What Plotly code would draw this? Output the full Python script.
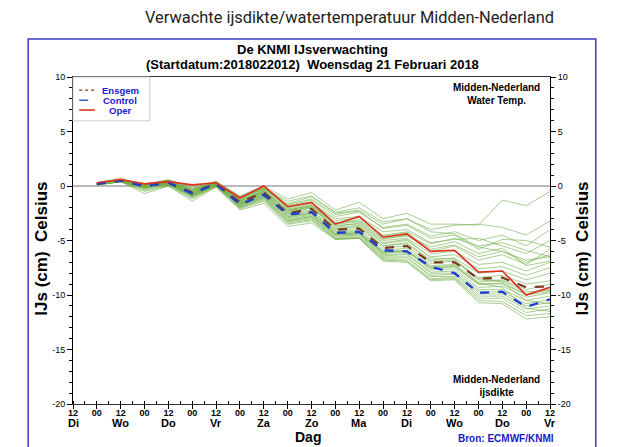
import plotly.graph_objects as go

# ---------------- data ----------------
hours = [12, 24, 36, 48, 60, 72, 84, 96, 108, 120, 132, 144, 156, 168, 180, 192, 204, 216, 228, 240]

ensgem = [0.2, 0.5, 0.0, 0.3, -0.6, 0.2, -1.5, -0.6, -2.5, -2.1, -4.0, -3.9, -5.7, -5.5, -7.0, -7.0, -8.5, -8.4, -9.3, -9.2]
control = [0.2, 0.5, 0.0, 0.3, -0.7, 0.2, -1.7, -0.8, -2.6, -2.4, -4.3, -4.2, -5.9, -6.0, -7.4, -8.0, -9.8, -9.7, -11.1, -10.4]
oper = [0.3, 0.6, 0.2, 0.4, 0.1, 0.3, -1.1, 0.0, -1.9, -1.5, -3.5, -2.8, -4.7, -4.4, -6.0, -5.9, -7.9, -7.8, -10.0, -9.3]

members = [
    [0.3, 0.6, 0.2, 0.5, 0.0, 0.4, -0.9, 0.0, -1.2, -0.6, -2.2, -1.5, -3.0, -2.5, -3.5, -3.5, -3.6, -1.3, -1.8, -0.5],
    [0.3, 0.7, 0.1, 0.6, -0.2, 0.3, -1.0, -0.1, -1.6, -1.0, -2.4, -2.0, -3.3, -3.0, -4.0, -3.6, -3.5, -3.8, -4.5, -3.2],
    [0.2, 0.6, 0.1, 0.4, -0.3, 0.3, -1.1, -0.3, -1.8, -1.3, -2.8, -2.4, -3.8, -3.5, -4.6, -4.2, -5.0, -4.5, -5.5, -4.0],
    [0.2, 0.5, 0.0, 0.4, -0.4, 0.2, -1.2, -0.3, -2.0, -1.6, -3.0, -2.8, -4.2, -4.0, -5.2, -4.9, -4.8, -5.5, -6.2, -5.0],
    [0.3, 0.6, 0.1, 0.5, -0.4, 0.3, -1.3, -0.4, -2.1, -1.7, -3.4, -3.1, -4.6, -4.3, -5.8, -5.4, -6.5, -6.0, -6.8, -6.5],
    [0.2, 0.5, -0.2, 0.3, -0.5, 0.2, -1.3, -0.5, -2.2, -1.8, -3.5, -3.3, -4.9, -4.5, -6.0, -5.5, -6.8, -6.3, -7.2, -5.8],
    [0.2, 0.5, 0.0, 0.3, -0.6, 0.2, -1.4, -0.5, -2.3, -1.9, -3.6, -3.5, -5.0, -4.8, -6.2, -6.0, -7.2, -7.0, -7.8, -7.0],
    [0.2, 0.5, 0.0, 0.2, -0.7, 0.1, -1.5, -0.7, -2.4, -2.0, -3.8, -3.6, -5.3, -5.0, -6.5, -6.3, -7.6, -7.4, -8.2, -7.5],
    [0.2, 0.4, -0.1, 0.3, -0.6, 0.2, -1.5, -0.6, -2.5, -2.2, -4.0, -3.8, -5.5, -5.2, -6.8, -6.6, -8.0, -7.8, -8.6, -8.0],
    [0.1, 0.5, -0.1, 0.2, -0.8, 0.1, -1.6, -0.8, -2.6, -2.3, -4.1, -4.0, -5.7, -5.5, -7.1, -6.9, -8.4, -8.2, -9.0, -8.7],
    [0.2, 0.5, 0.0, 0.3, -0.7, 0.2, -1.6, -0.7, -2.7, -2.4, -4.2, -4.1, -5.9, -5.7, -7.3, -7.2, -8.8, -8.6, -9.5, -9.0],
    [0.2, 0.4, -0.2, 0.2, -0.9, 0.0, -1.7, -0.9, -2.8, -2.5, -4.3, -4.2, -6.0, -5.9, -7.5, -7.4, -9.0, -9.0, -9.9, -9.5],
    [0.1, 0.4, -0.1, 0.2, -0.8, 0.1, -1.7, -0.9, -2.9, -2.6, -4.4, -4.3, -6.2, -6.0, -7.7, -7.6, -9.3, -9.2, -10.2, -9.8],
    [0.2, 0.5, 0.0, 0.3, -0.7, 0.2, -1.8, -1.0, -3.0, -2.7, -4.5, -4.4, -6.3, -6.2, -7.9, -7.8, -9.5, -9.5, -10.5, -10.1],
    [0.1, 0.4, -0.3, 0.1, -1.0, 0.0, -1.8, -1.0, -3.1, -2.8, -4.6, -4.5, -6.4, -6.3, -8.0, -8.0, -9.7, -9.7, -10.8, -10.4],
    [0.2, 0.4, -0.1, 0.2, -0.9, 0.1, -1.9, -1.1, -3.2, -2.9, -4.7, -4.6, -6.5, -6.5, -8.2, -8.1, -9.9, -9.9, -11.0, -10.7],
    [0.1, 0.5, -0.2, 0.2, -1.0, 0.0, -2.0, -1.2, -3.3, -3.0, -4.8, -4.7, -6.6, -6.6, -8.3, -8.3, -10.1, -10.1, -11.3, -11.0],
    [0.1, 0.4, -0.4, 0.1, -1.1, -0.1, -2.0, -1.3, -3.4, -3.1, -4.8, -4.8, -6.7, -6.8, -8.5, -8.4, -10.3, -10.3, -11.6, -11.3],
    [0.1, 0.4, -0.5, 0.0, -1.2, 0.0, -2.1, -1.4, -3.5, -3.2, -4.9, -4.8, -6.8, -6.9, -8.6, -8.5, -10.5, -10.6, -11.9, -11.7],
    [0.1, 0.4, -0.7, 0.0, -1.4, -0.1, -2.2, -1.6, -3.7, -3.4, -4.9, -4.8, -6.9, -7.0, -8.7, -8.6, -10.7, -10.8, -12.2, -12.0],
    [0.2, 0.5, -0.1, 0.3, -0.8, 0.2, -1.6, -0.6, -2.5, -2.0, -3.9, -3.7, -5.5, -5.3, -6.9, -6.8, -8.6, -8.8, -10.0, -9.7],
    [0.2, 0.6, 0.0, 0.4, -0.5, 0.3, -1.4, -0.4, -2.3, -1.9, -3.7, -3.4, -5.2, -4.9, -6.6, -6.7, -8.5, -8.7, -9.7, -9.6],
    [0.2, 0.5, 0.1, 0.4, -0.4, 0.3, -1.2, -0.2, -1.9, -1.5, -3.2, -2.9, -4.5, -4.2, -5.3, -4.8, -5.5, -5.2, -5.9, -6.5],
    [0.3, 0.6, 0.2, 0.5, -0.3, 0.4, -1.1, -0.2, -1.7, -1.2, -2.6, -2.3, -3.9, -3.6, -4.8, -4.5, -5.8, -4.9, -5.0, -5.6],
    [0.2, 0.5, 0.0, 0.4, -0.5, 0.2, -1.4, -0.5, -2.2, -1.8, -3.4, -3.2, -4.8, -4.6, -5.6, -5.1, -6.2, -5.7, -7.3, -6.9],
    [0.1, 0.4, -0.2, 0.2, -0.9, 0.1, -1.9, -1.1, -3.2, -2.8, -4.5, -4.4, -6.1, -5.9, -7.4, -7.3, -8.9, -9.3, -11.2, -11.5],
    [0.2, 0.5, -0.1, 0.3, -0.7, 0.2, -1.7, -0.8, -2.8, -2.5, -4.4, -4.3, -6.1, -6.0, -7.6, -7.4, -9.0, -8.9, -10.5, -10.8],
    [0.3, 0.6, 0.1, 0.5, -0.2, 0.4, -1.0, -0.2, -1.4, -0.9, -2.5, -2.2, -3.5, -3.0, -4.2, -4.4, -5.6, -6.0, -7.0, -6.3],
]

tick_hours = [0, 12, 24, 36, 48, 60, 72, 84, 96, 108, 120, 132, 144, 156, 168, 180, 192, 204, 216, 228, 240]
tick_text = ["12", "00", "12", "00", "12", "00", "12", "00", "12", "00", "12",
             "00", "12", "00", "12", "00", "12", "00", "12", "00", "12"]
day_hours = [0, 24, 48, 72, 96, 120, 144, 168, 192, 216, 240]
day_names = ["Di", "Wo", "Do", "Vr", "Za", "Zo", "Ma", "Di", "Wo", "Do", "Vr"]
y_ticks = [10, 5, 0, -5, -10, -15, -20]
y_tick_text = ["10", "5", "0", "-5", "-10", "-15", "-20"]
legend_names = ["Ensgem", "Control", "Oper"]

FONT = "Liberation Sans, Arial, sans-serif"
BLUE = "#1a1acc"
C_ENS = "#7a3a1e"
C_CTL = "#1f3fd0"
C_OPER = "#e0301e"

fig = go.Figure()

for m in members:
    fig.add_trace(go.Scatter(x=hours, y=m, mode="lines", showlegend=False,
                             line=dict(color="rgba(110,175,70,0.75)", width=0.8),
                             hoverinfo="skip"))

fig.add_trace(go.Scatter(x=hours, y=ensgem, mode="lines", name=legend_names[0], showlegend=False,
                         line=dict(color=C_ENS, width=2.2, dash="dash")))
fig.add_trace(go.Scatter(x=hours, y=control, mode="lines", name=legend_names[1], showlegend=False,
                         line=dict(color=C_CTL, width=2.4, dash="dash")))
fig.add_trace(go.Scatter(x=hours, y=oper, mode="lines", name=legend_names[2], showlegend=False,
                         line=dict(color=C_OPER, width=1.6)))
# invisible trace to activate the right-hand axis
fig.add_trace(go.Scatter(x=[hours[0]], y=[ensgem[0]], yaxis="y2", mode="lines",
                         showlegend=False, hoverinfo="skip",
                         line=dict(color="rgba(0,0,0,0)", width=0)))

yaxis_common = dict(range=[-20, 10], tickvals=y_ticks, ticktext=y_tick_text,
                    ticks="outside", ticklen=5, tickcolor="black",
                    showline=True, linecolor="black", linewidth=1,
                    showgrid=False, zeroline=False,
                    tickfont=dict(family=FONT, size=9, color="black"),
                    minor=dict(dtick=1, ticks="outside", ticklen=3, tickcolor="black"),
                    fixedrange=True)

# page body has an 8px margin; the figure is laid out relative to it
fig.update_layout(
    width=623, height=439,
    margin=dict(l=65, r=81, t=69, b=43),
    paper_bgcolor="white", plot_bgcolor="white",
    xaxis=dict(range=[0, 240], tickvals=tick_hours, ticktext=tick_text,
               ticks="outside", ticklen=4, tickcolor="black",
               showline=True, linecolor="#333", linewidth=1, mirror=True,
               showgrid=False, zeroline=False, ticklabelstandoff=-4,
               tickfont=dict(family=FONT, size=9, color="black", weight="bold"),
               minor=dict(dtick=6, ticks="inside", ticklen=3, tickcolor="black")),
    yaxis=dict(**yaxis_common, side="left"),
    yaxis2=dict(**yaxis_common, side="right", overlaying="y"),
    showlegend=False,
)

# zero line
fig.add_hline(y=0, line=dict(color="#777777", width=1), layer="below")

# blue frame
fig.add_shape(type="rect", xref="paper", yref="paper",
              x0=-0.094, x1=1.096, y0=-0.3, y1=1.116,
              line=dict(color="#3b3bc8", width=1.5), fillcolor="rgba(0,0,0,0)")

# legend box (manual, compact like the original)
fig.add_shape(type="rect", xref="paper", yref="paper",
              x0=0.0, x1=0.161, y0=0.866, y1=1.0,
              line=dict(color="#cccccc", width=1), fillcolor="white")
leg_y = [0.960, 0.929, 0.899]
leg_style = [dict(color=C_ENS, width=1.3, dash="dot"),
             dict(color=C_CTL, width=1.3, dash="dash"),
             dict(color=C_OPER, width=1.6)]

ann = []
for ly, st, nm in zip(leg_y, leg_style, legend_names):
    fig.add_shape(type="line", xref="paper", yref="paper",
                  x0=0.013, x1=0.046, y0=ly, y1=ly, line=st)
    ann.append(dict(text="<b>" + nm + "</b>", x=0.099, y=ly, xref="paper", yref="paper",
                    xanchor="center", yanchor="middle", showarrow=False,
                    font=dict(family=FONT, size=9.5, color=BLUE)))

ann.append(dict(text="Verwachte ijsdikte/watertemperatuur Midden-Nederland",
                x=0.58, y=1.183, xref="paper", yref="paper", showarrow=False,
                xanchor="center", yanchor="middle",
                font=dict(family="Roboto, sans-serif", size=16.4, color="#222")))
ann.append(dict(text="<b>De KNMI IJsverwachting</b>", x=0.503, y=1.083,
                xref="paper", yref="paper", showarrow=False,
                xanchor="center", yanchor="middle",
                font=dict(family=FONT, size=13, color="black")))
ann.append(dict(text="<b>(Startdatum:2018022012)\u00a0 Woensdag 21 Februari 2018</b>",
                x=0.503, y=1.037, xref="paper", yref="paper", showarrow=False,
                xanchor="center", yanchor="middle",
                font=dict(family=FONT, size=13, color="black")))
ann.append(dict(text="<b>Midden-Nederland<br>Water Temp.</b>", x=0.887, y=0.99,
                xref="paper", yref="paper", xanchor="center", yanchor="top", showarrow=False,
                font=dict(family=FONT, size=10, color="black")))
ann.append(dict(text="<b>Midden-Nederland<br>ijsdikte</b>", x=0.887, y=0.055,
                xref="paper", yref="paper", xanchor="center", yanchor="middle", showarrow=False,
                font=dict(family=FONT, size=10, color="black")))
ann.append(dict(text="<b>Dag</b>", x=0.493, y=-0.101, xref="paper", yref="paper",
                xanchor="center", yanchor="middle",
                showarrow=False, font=dict(family=FONT, size=14, color="black")))
ann.append(dict(text="<b>Bron: ECMWF/KNMI</b>", x=0.908, y=-0.104, xref="paper",
                yref="paper", xanchor="center", yanchor="middle", showarrow=False,
                font=dict(family=FONT, size=10, color=BLUE)))
for side_x in (-0.065, 1.069):
    ann.append(dict(text="<b>IJs (cm)\u00a0 Celsius</b>", x=side_x, y=0.475,
                    xref="paper", yref="paper", showarrow=False, textangle=-90,
                    xanchor="center", yanchor="middle",
                    font=dict(family=FONT, size=17, color="black")))
for h, d in zip(day_hours, day_names):
    ann.append(dict(text="<b>" + d + "</b>", x=h, y=-0.058, xref="x", yref="paper",
                    xanchor="center", yanchor="middle",
                    showarrow=False, font=dict(family=FONT, size=11, color="black")))
fig.update_layout(annotations=ann)

fig.write_html("out.html")
